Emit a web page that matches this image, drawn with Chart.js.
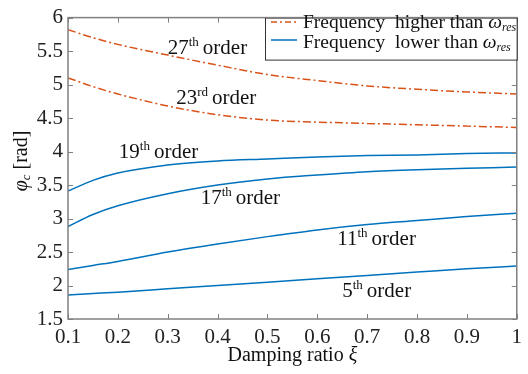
<!DOCTYPE html>
<html lang="en">
<head>
    <meta charset="UTF-8">
    <title>Phase vs damping ratio</title>
    <script src="https://cdn.jsdelivr.net/npm/chart.js"></script>
    <style>
        body { margin: 0; background: #fff; }
        #wrap { width: 528px; height: 374px; }
    </style>
</head>
<body>
    <div id="wrap"><canvas id="phaseChart" width="528" height="374"></canvas></div>

    <script>
        // damping ratio samples
        const xi = [0.1, 0.15, 0.2, 0.3, 0.4, 0.5, 0.6, 0.7, 0.8, 0.9, 1.0];

        // phase [rad] per harmonic order
        const order27 = [5.82, 5.70, 5.60, 5.44, 5.29, 5.15, 5.06, 4.98, 4.93, 4.89, 4.86];
        const order23 = [5.10, 4.97, 4.86, 4.68, 4.55, 4.47, 4.44, 4.42, 4.40, 4.38, 4.36];
        const order19 = [3.41, 3.57, 3.68, 3.80, 3.86, 3.89, 3.92, 3.94, 3.95, 3.97, 3.98];
        const order17 = [2.88, 3.06, 3.19, 3.37, 3.50, 3.59, 3.65, 3.70, 3.73, 3.75, 3.77];
        const order11 = [2.24, 2.30, 2.36, 2.50, 2.62, 2.73, 2.83, 2.91, 2.97, 3.03, 3.08];
        const order5  = [1.86, 1.88, 1.90, 1.95, 2.00, 2.05, 2.10, 2.15, 2.20, 2.25, 2.29];

        const xTicks = [0.1, 0.2, 0.3, 0.4, 0.5, 0.6, 0.7, 0.8, 0.9, 1];
        const yTicks = [1.5, 2, 2.5, 3, 3.5, 4, 4.5, 5, 5.5, 6];

        // curve annotations: [number, suffix, xi, phase]
        const orderLabels = [
            ['27', 'th', 0.30, 5.46],
            ['23', 'rd', 0.317, 4.71],
            ['19', 'th', 0.202, 3.91],
            ['17', 'th', 0.366, 3.21],
            ['11', 'th', 0.64, 2.61],
            ['5', 'th', 0.65, 1.83]
        ];

        const ORANGE = '#D95319';
        const BLUE = '#0072BD';
        const AXIS = '#808080';
        const SERIF = '"Liberation Serif", "DejaVu Serif", serif';

        function pts(ys) {
            return xi.map((x, i) => ({ x: x, y: ys[i] }));
        }

        function line(ys, color, dash) {
            return {
                data: pts(ys),
                borderColor: color,
                borderWidth: 1.5,
                borderDash: dash,
                pointRadius: 0,
                fill: false,
                cubicInterpolationMode: 'monotone'
            };
        }

        // box, inward ticks, legend, titles and order labels
        const decorations = {
            id: 'decorations',
            afterDraw(chart) {
                const ctx = chart.ctx;
                const a = chart.chartArea;
                const xs = chart.scales.x;
                const ys = chart.scales.y;
                ctx.save();

                // axis box
                ctx.strokeStyle = AXIS;
                ctx.lineWidth = 1.5;
                ctx.strokeRect(a.left, a.top, a.right - a.left, a.bottom - a.top);

                // inward ticks
                ctx.lineWidth = 1;
                ctx.beginPath();
                xTicks.forEach(v => {
                    const px = Math.round(xs.getPixelForValue(v)) + 0.5;
                    ctx.moveTo(px, a.bottom); ctx.lineTo(px, a.bottom - 5);
                    ctx.moveTo(px, a.top); ctx.lineTo(px, a.top + 5);
                });
                yTicks.forEach(v => {
                    const py = Math.round(ys.getPixelForValue(v)) + 0.5;
                    ctx.moveTo(a.left, py); ctx.lineTo(a.left + 5, py);
                    ctx.moveTo(a.right, py); ctx.lineTo(a.right - 5, py);
                });
                ctx.stroke();

                ctx.fillStyle = '#111';
                ctx.textBaseline = 'alphabetic';
                ctx.textAlign = 'left';

                // order labels with superscripts
                orderLabels.forEach(l => {
                    let px = xs.getPixelForValue(l[2]);
                    const py = ys.getPixelForValue(l[3]);
                    ctx.font = '21px ' + SERIF;
                    ctx.fillText(l[0], px, py);
                    px += ctx.measureText(l[0]).width;
                    ctx.font = '13px ' + SERIF;
                    ctx.fillText(l[1], px, py - 8);
                    px += ctx.measureText(l[1]).width + 4;
                    ctx.font = '21px ' + SERIF;
                    ctx.fillText('order', px, py);
                });

                // legend
                const lx = 265, ly = a.top, lw = a.right - 265, lh = 42;
                ctx.fillStyle = '#fff';
                ctx.fillRect(lx, ly, lw, lh);
                ctx.strokeStyle = '#333';
                ctx.lineWidth = 1;
                ctx.strokeRect(lx + 0.5, ly + 0.5, lw, lh);
                const entries = [
                    [ORANGE, [6, 3, 2, 3], 'Frequency  higher than ', 22, 28],
                    [BLUE, [], 'Frequency  lower than ', 40, 48]
                ];
                entries.forEach(e => {
                    ctx.strokeStyle = e[0];
                    ctx.lineWidth = 1.5;
                    ctx.setLineDash(e[1]);
                    ctx.beginPath();
                    ctx.moveTo(271, e[3]);
                    ctx.lineTo(297, e[3]);
                    ctx.stroke();
                    ctx.setLineDash([]);
                    ctx.fillStyle = '#111';
                    let tx = 303;
                    const by = e[4];
                    ctx.font = '19.5px ' + SERIF;
                    ctx.fillText(e[2], tx, by);
                    tx += ctx.measureText(e[2]).width;
                    ctx.font = 'italic 19.5px ' + SERIF;
                    ctx.fillText('\u03C9', tx, by);
                    tx += ctx.measureText('\u03C9').width;
                    ctx.font = 'italic 12px ' + SERIF;
                    ctx.fillText('res', tx, by + 3);
                });

                // x axis title
                ctx.fillStyle = '#111';
                ctx.font = '20px ' + SERIF;
                const t1 = 'Damping ratio ';
                const w1 = ctx.measureText(t1).width;
                ctx.font = 'italic 20px ' + SERIF;
                const w2 = ctx.measureText('\u03BE').width;
                let tx = (a.left + a.right) / 2 - (w1 + w2) / 2;
                ctx.font = '20px ' + SERIF;
                ctx.fillText(t1, tx, 361);
                ctx.font = 'italic 20px ' + SERIF;
                ctx.fillText('\u03BE', tx + w1, 361);

                // y axis title
                ctx.translate(27, 161);
                ctx.rotate(-Math.PI / 2);
                ctx.font = 'italic 20px ' + SERIF;
                const pw = ctx.measureText('\u03C6').width;
                ctx.font = 'italic 13px ' + SERIF;
                const cw = ctx.measureText('c').width;
                ctx.font = '20px ' + SERIF;
                const rw = ctx.measureText(' [rad]').width;
                let ox = -(pw + cw + rw) / 2;
                ctx.font = 'italic 20px ' + SERIF;
                ctx.fillText('\u03C6', ox, 0);
                ox += pw;
                ctx.font = 'italic 13px ' + SERIF;
                ctx.fillText('c', ox, 3);
                ox += cw;
                ctx.font = '20px ' + SERIF;
                ctx.fillText(' [rad]', ox, 0);

                ctx.restore();
            }
        };

        new Chart(document.getElementById('phaseChart'), {
            type: 'line',
            data: {
                datasets: [
                    line(order27, ORANGE, [8, 3, 2, 3]),
                    line(order23, ORANGE, [8, 3, 2, 3]),
                    line(order19, BLUE, []),
                    line(order17, BLUE, []),
                    line(order11, BLUE, []),
                    line(order5, BLUE, [])
                ]
            },
            options: {
                responsive: false,
                animation: false,
                layout: { padding: { top: 11, right: 3, left: 0, bottom: 0 } },
                plugins: { legend: { display: false }, tooltip: { enabled: false } },
                scales: {
                    x: {
                        type: 'linear',
                        min: 0.1,
                        max: 1,
                        afterBuildTicks: s => { s.ticks = xTicks.map(v => ({ value: v })); },
                        afterFit: s => { s.height = 55; },
                        grid: { display: false, drawTicks: false },
                        border: { display: false },
                        ticks: {
                            padding: 6,
                            color: '#222',
                            font: { family: SERIF, size: 21 },
                            maxRotation: 0,
                            autoSkip: false,
                            callback: v => String(Math.round(v * 10) / 10)
                        }
                    },
                    y: {
                        min: 1.5,
                        max: 6,
                        afterBuildTicks: s => { s.ticks = yTicks.map(v => ({ value: v })); },
                        afterFit: s => { s.width = 68; },
                        grid: { display: false, drawTicks: false },
                        border: { display: false },
                        ticks: {
                            padding: 5,
                            color: '#222',
                            font: { family: SERIF, size: 21 },
                            autoSkip: false,
                            callback: v => String(v)
                        }
                    }
                }
            },
            plugins: [decorations]
        });
    </script>
</body>
</html>
